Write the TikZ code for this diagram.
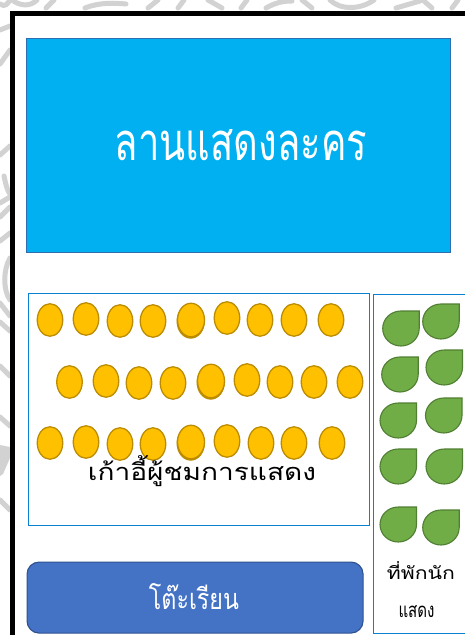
\documentclass[tikz,border=0pt]{standalone}
\usepackage{fontspec}
\usetikzlibrary{shapes.geometric}
\newfontfamily\thaifont[Script=Thai]{Loma}
\definecolor{stageblue}{HTML}{00B0F0}
\definecolor{edgeblue}{HTML}{2E6DB0}
\definecolor{boxblue}{HTML}{0B7FD0}
\definecolor{tableblue}{HTML}{4472C4}
\definecolor{tableedge}{HTML}{2F528F}
\definecolor{seatfill}{HTML}{FFC000}
\definecolor{seatedge}{HTML}{BC8C00}
\definecolor{leaf}{HTML}{70AD47}
\definecolor{leafedge}{HTML}{507E32}
\definecolor{wm}{HTML}{D2D2D2}
\tikzset{
 seat/.style={ellipse,draw=seatedge,fill=seatfill,line width=1.3pt,minimum width=25.5pt,minimum height=32.5pt,inner sep=0pt},
 seatbig/.style={seat,minimum width=27pt,minimum height=33.5pt},
 seatshade/.style={seatbig,fill=seatedge},
 zone/.style={draw=boxblue,line width=1.2pt,fill=white},
 leafshape/.style={draw=leafedge,fill=leaf,line width=1.1pt},
 wmline/.style={draw=wm,line width=5pt,line cap=round},
 lab/.style={inner sep=0pt,font=\thaifont}
}
% teardrop: square top-right corner, the other three sides round
\newcommand{\drop}[2]{\draw[leafshape] (#1+36.5,#2) -- (#1+36.5,#2+17.5)
 .. controls (#1+36.5,#2+27.2) and (#1+28.3,#2+35) .. (#1+18.25,#2+35)
 .. controls (#1+8.2,#2+35) and (#1,#2+27.2) .. (#1,#2+17.5)
 .. controls (#1,#2+7.8) and (#1+8.2,#2) .. (#1+18.25,#2) -- cycle;}
\begin{document}
\begin{tikzpicture}[x=1pt,y=-1pt]
\useasboundingbox (0,0) rectangle (464,635);
\fill[white] (0,0) rectangle (464,635);
\begin{scope}
\clip (0,0) rectangle (464,635);
% left margin watermark
\draw[wmline] (0,4) .. controls (5,8) and (8,3) .. (10,0);
\draw[wmline] (0,30) -- (10,26);
\draw[wmline] (0,64) -- (10,50);
\draw[wmline] (0,155) -- (10,146);
\draw[wmline] (4,176) .. controls (6,185) and (7,190) .. (10,194);
\draw[wmline] (0,203) -- (10,197);
\draw[wmline] (0,217) -- (10,207);
\draw[wmline] (0,241) -- (10,233);
\draw[wmline] (10,258) .. controls (3,270) and (3,290) .. (10,300);
\draw[wmline] (0,303) -- (10,316);
\draw[wmline] (0,322) -- (10,331);
\draw[wmline] (0,366) -- (10,376);
\draw[wmline] (0,417) -- (10,426);
\fill[wm] (0,445) -- (10,447) -- (10,458) -- (3,474) -- (0,476) -- cycle;
\draw[wmline] (0,500) -- (10,510);
% top margin watermark
\draw[wmline] (12,0) .. controls (20,6) and (30,7) .. (37,0);
\draw[wmline] (46,8) -- (54,0);
\draw[wmline] (85,8) .. controls (100,2) and (115,3) .. (126,4);
\draw[wmline] (148,8) -- (158,0);
\draw[wmline] (178,8) -- (184,0);
\draw[wmline] (208,0) -- (222,8);
\draw[wmline] (241,8) -- (247,0);
\draw[wmline] (266,8) .. controls (275,3) and (282,1) .. (292,1);
\draw[wmline] (302,0) -- (312,8);
\draw[wmline] (330,0) .. controls (340,10) and (360,10) .. (374,0);
\draw[wmline] (396,8) -- (420,1);
\draw[wmline] (424,1) -- (432,8);
\draw[wmline] (452,8) -- (458,0);
\end{scope}
\fill[white] (14,14) rectangle (464,635);
\draw[black,line width=4.8pt] (12.5,640) -- (12.5,13.5) -- (470,13.5);
\node[draw=edgeblue,fill=stageblue,line width=1.1pt,minimum width=424pt,minimum height=214pt,inner sep=0pt,anchor=north west] (stage) at (26,37.5) {};
\node[lab,text=white] (stagelabel) at (241,145) {\resizebox{252pt}{31pt}{\thaifont ลานแสดงละคร}};
\node[zone,minimum width=341pt,minimum height=232pt,inner sep=0pt,anchor=north west] (audience) at (28,292.5) {};
\node[zone,minimum width=100pt,minimum height=339pt,inner sep=0pt,anchor=north west] (backstage) at (372.5,293.5) {};
\foreach \n/\x/\y in {a/50/320,b/86/319,c/120/321,d/153/321,f/227/318,g/260/320,h/294/320,i/331/320,
 j/69.5/382,k/106/381,l/139/383,m/173/383,o/247/380,p/280/382,q/314/382,r/350/382,
 s/50/443,t/86/442,u/120/444,v/153/444,x/227/441,y/261/443,z/294/443,w/332/443}
 \node[seat] (\n) at (\x,\y) {};
\foreach \n/\x/\y in {e/191/320,n/211/381,w2/191/442}{
 \node[seatshade] (\n shade) at (\x-0.3,\y+1.3) {};
 \node[seatbig] (\n) at (\x,\y) {};
}
\node[lab,text=black] (audlabel) at (202,471) {\resizebox{228pt}{25pt}{\thaifont เก้าอี้ผู้ชมการแสดง}};
\node[draw=tableedge,fill=tableblue,line width=1.1pt,rounded corners=12pt,minimum width=336pt,minimum height=71pt,inner sep=0pt,anchor=north west] (table) at (26.5,561.5) {};
\node[lab,text=white] (tablelabel) at (194,597) {\resizebox{90pt}{26pt}{\thaifont โต๊ะเรียน}};
\drop{382.7}{311}
\drop{422.7}{304}
\drop{381.7}{357}
\drop{426}{350}
\drop{380}{403}
\drop{425.5}{398}
\drop{380}{449}
\drop{426}{449}
\drop{380}{507}
\drop{422.7}{510}
\node[lab,text=black] (restlabel) at (421,571) {\resizebox{68pt}{18pt}{\thaifont ที่พักนัก}};
\node[lab,text=black] (restlabel2) at (416.5,612) {\resizebox{36pt}{12pt}{\thaifont แสดง}};
\end{tikzpicture}
\end{document}
